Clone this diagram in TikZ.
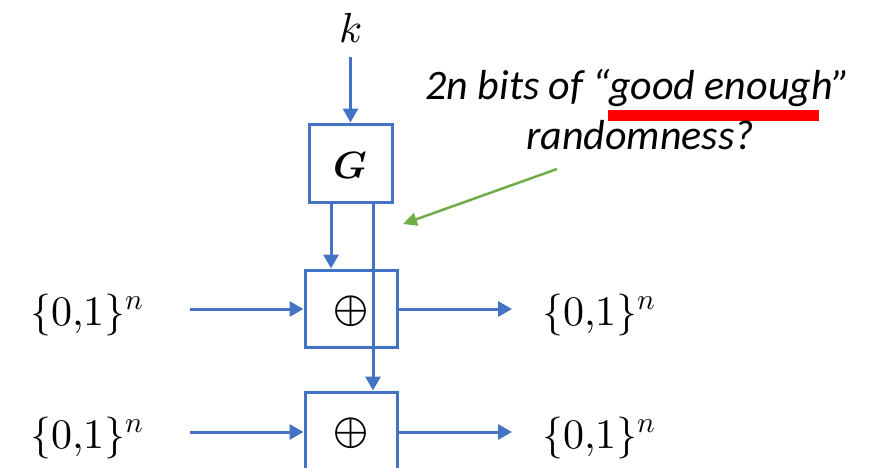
\documentclass[tikz,border=0pt]{standalone}
\usepackage{fontspec}
\usepackage{unicode-math}
\newfontfamily\carlito{Carlito}
\usetikzlibrary{arrows.meta}
\definecolor{myblue}{HTML}{4472C4}
\definecolor{mygreen}{HTML}{70AD47}
\begin{document}
\begin{tikzpicture}[x=1pt,y=-1pt,
  box/.style={draw=myblue,line width=3pt,inner sep=0pt,fill=none},
  arr/.style={draw=myblue,line width=3pt,-{Triangle[length=14pt,width=15pt]}},
  lbl/.style={inner sep=0pt,anchor=base,font=\fontsize{42}{48}\selectfont},
  oplus/.style={inner sep=0pt,font=\fontsize{45}{50}\selectfont},
  note/.style={inner sep=0pt,anchor=base,font=\carlito\itshape\fontsize{42}{48}\selectfont}]
\useasboundingbox (0,0) rectangle (879,467);
\clip (0,0) rectangle (879,467);
% labels
\node[lbl] (k) at (350.5,42) {$k$};
\node[box,minimum width=83pt,minimum height=78pt] (G) at (350.5,163) {};
\node[lbl,font=\fontsize{38}{42}\selectfont] (g) at (350,178) {$\symbfit{G}$};
\node[box,minimum width=92pt,minimum height=77pt] (x1) at (351,308.5) {};
\node[box,minimum width=92pt,minimum height=77pt] (x2) at (351,430.5) {};
\node[oplus] (o1) at (351,311) {$\oplus$};
\node[oplus] (o2) at (351,433) {$\oplus$};
\node[lbl] (L1) at (87,325) {$\{0{,}1\}^n$};
\node[lbl] (L2) at (87,448) {$\{0{,}1\}^n$};
\node[lbl] (R1) at (599,325) {$\{0{,}1\}^n$};
\node[lbl] (R2) at (599,448) {$\{0{,}1\}^n$};
\coordinate (in1) at (190,309);
\coordinate (in2) at (190,432);
\coordinate (out1) at (512,309);
\coordinate (out2) at (512,432);
% note
\draw[red,line width=11pt] (608,115) -- (819,115);
\node[note] (t1) at (638,99) {2n bits of “good enough”};
\node[note] (t2) at (640,149) {randomness?};
\coordinate (gs) at (557,169);
\coordinate (ge) at (403,224);
\draw[mygreen,line width=2.5pt,-{Triangle[length=14pt,width=13pt]}] (gs) -- (ge);
% connectors
\draw[arr,shorten <=15pt] (k.base) -- (G.north);
\draw[arr] ([xshift=-19.5pt]G.south) -- ([xshift=-19.5pt]G.south |- x1.north);
\draw[arr] ([xshift=22.5pt]G.south) -- ([xshift=22.5pt]G.south |- x2.north);
\draw[arr] (in1) -- (in1 -| x1.west);
\draw[arr] (in2) -- (in2 -| x2.west);
\draw[arr] (out1 -| x1.east) -- (out1);
\draw[arr] (out2 -| x2.east) -- (out2);
\end{tikzpicture}
\end{document}
